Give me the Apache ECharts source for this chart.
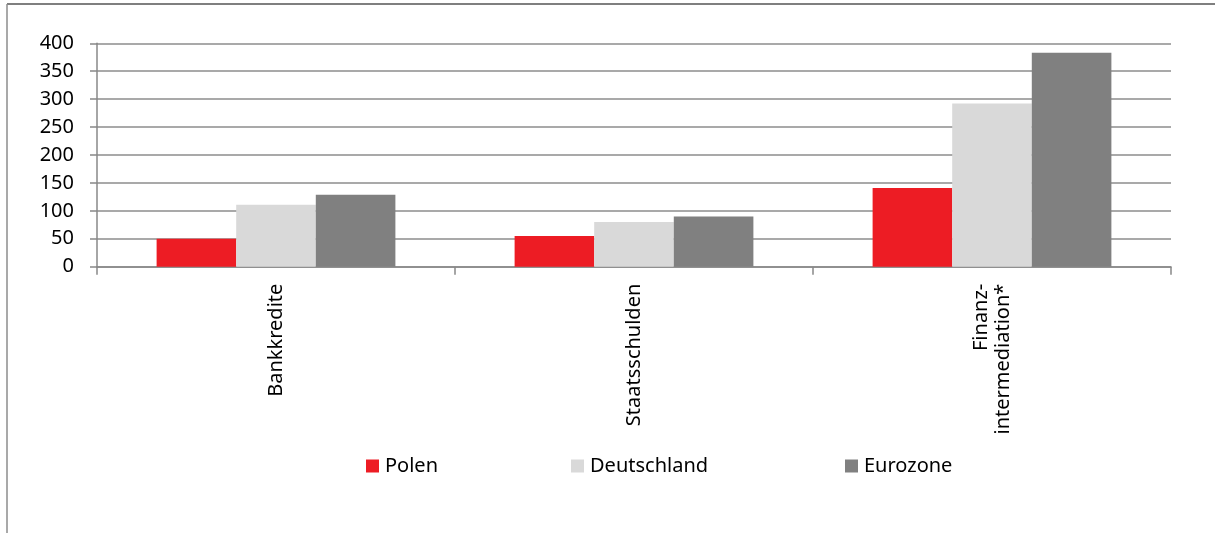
<!DOCTYPE html>
<html>
<head>
<meta charset="utf-8">
<script src="https://cdn.jsdelivr.net/npm/echarts@6/dist/echarts.min.js"></script>
<style>
html,body{margin:0;padding:0;background:#fff;}
#chart{width:1215px;height:533px;}
</style>
</head>
<body>
<div id="chart"></div>
<script>
const categories = ['Bankkredite', 'Staatsschulden', 'Finanz-\nintermediation*'];
const seriesNames = ['Polen', 'Deutschland', 'Eurozone'];
const polen = [50, 55, 141];
const deutschland = [111, 80, 292];
const eurozone = [129, 90, 383];
const yTicks = [0, 50, 100, 150, 200, 250, 300, 350, 400];

const colors = ['#ED1C24', '#D9D9D9', '#808080'];
const FONT = '"Noto Sans", sans-serif';
const chart = echarts.init(document.getElementById('chart'), null, {renderer: 'canvas'});

const legendLefts = [361, 566, 840];
const option = {
  animation: false,
  backgroundColor: '#ffffff',
  grid: {left: 97, right: 44, top: 43.3, bottom: 266.3, containLabel: false},
  legend: seriesNames.map((n, i) => ({
    data: [n],
    left: legendLefts[i],
    top: 451,
    icon: 'rect',
    itemWidth: 13,
    itemHeight: 13,
    itemGap: 6,
    textStyle: {fontFamily: FONT, fontSize: 20, color: '#000', padding: [0, 0, 0, 1]}
  })),
  xAxis: {
    type: 'category',
    data: categories,
    axisLine: {show: true, lineStyle: {color: '#888', width: 1.5}},
    axisTick: {show: true, length: 8, lineStyle: {color: '#888', width: 1.5}},
    axisLabel: {
      rotate: 90, margin: 17, color: '#000', fontFamily: FONT, fontSize: 20,
      lineHeight: 22, interval: 0
    },
    splitLine: {show: false}
  },
  yAxis: {
    type: 'value',
    min: yTicks[0],
    max: yTicks[yTicks.length - 1],
    interval: 50,
    axisLine: {show: true, lineStyle: {color: '#888', width: 1.5}},
    axisTick: {show: true, length: 7, lineStyle: {color: '#888', width: 1.5}},
    axisLabel: {margin: 23, color: '#000', fontFamily: FONT, fontSize: 20},
    splitLine: {show: true, lineStyle: {color: '#8c8c8c', width: 1.5}}
  },
  series: [polen, deutschland, eurozone].map((d, i) => ({
    name: seriesNames[i],
    type: 'bar',
    data: d,
    barGap: '0%',
    barCategoryGap: '33.3%',
    itemStyle: {color: colors[i]}
  })),
  graphic: [
    {type: 'line', shape: {x1: 7, y1: 4, x2: 1215, y2: 4}, style: {stroke: '#555', lineWidth: 1.5}, silent: true},
    {type: 'line', shape: {x1: 7, y1: 4, x2: 7, y2: 533}, style: {stroke: '#8c8c8c', lineWidth: 1.5}, silent: true}
  ]
};
chart.setOption(option);
</script>
</body>
</html>
